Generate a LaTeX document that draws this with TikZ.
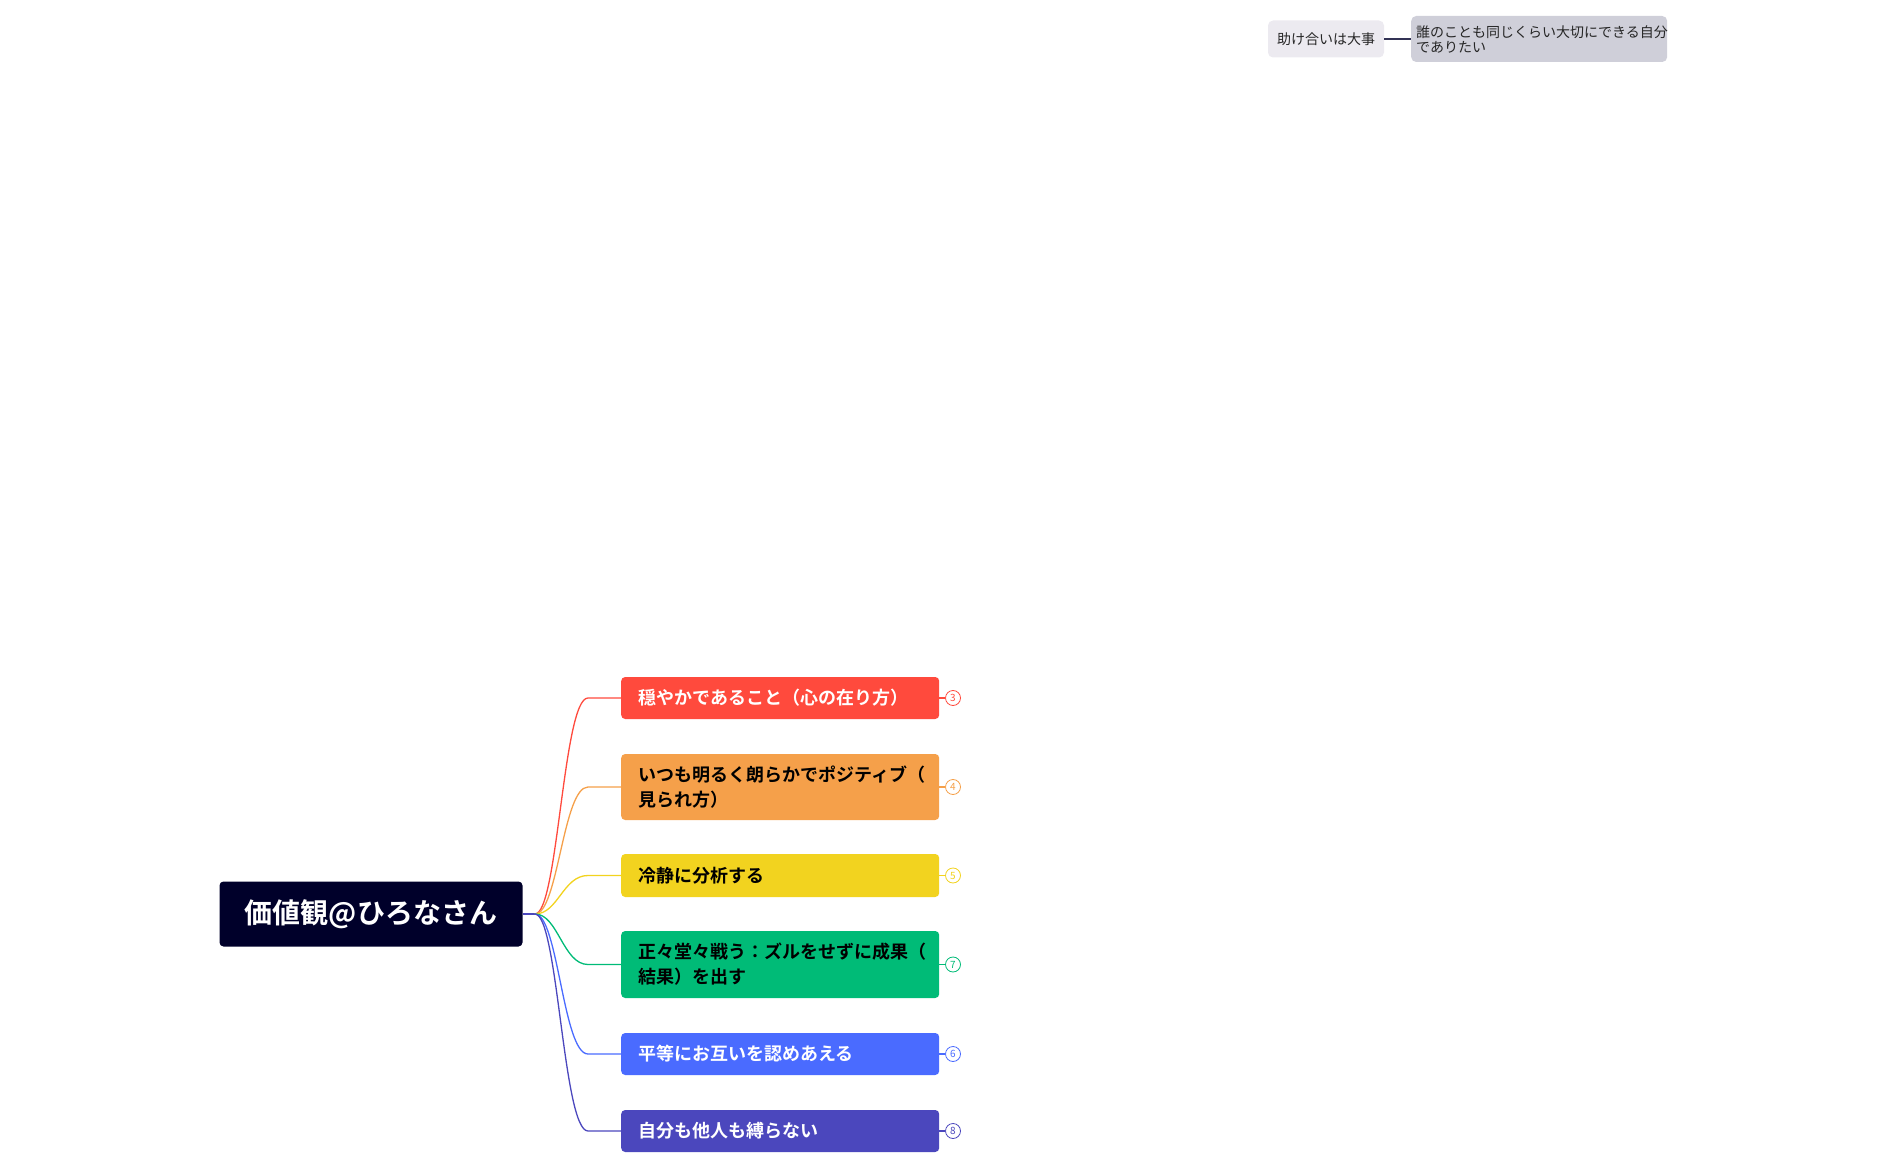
\documentclass[tikz,border=0pt]{standalone}
\usepackage{fontspec}
\setmainfont{Noto Sans CJK JP}
\newfontfamily\jpb{Noto Sans CJK JP Bold}
\definecolor{cA}{HTML}{FF4A3D}\definecolor{cB}{HTML}{F5A04A}\definecolor{cC}{HTML}{F2D31F}
\definecolor{cD}{HTML}{00BB77}\definecolor{cE}{HTML}{4A6BFF}\definecolor{cF}{HTML}{4B47BD}
\definecolor{root}{HTML}{00002A}\definecolor{tA}{HTML}{ECEAF0}\definecolor{tB}{HTML}{CFCFD9}
\begin{document}
\begin{tikzpicture}[x=1pt,y=-1pt,
 br/.style={rounded corners=4pt,minimum width=318pt,anchor=west,inner xsep=17pt,align=left,text width=284pt,font=\jpb\fontsize{18}{25}\selectfont},
 num/.style={circle,draw=#1,fill=white,line width=0.8pt,minimum size=15pt,inner sep=0pt,font=\fontsize{10}{10}\selectfont,text=#1},
 ln/.style={line width=1.3pt}]
\useasboundingbox (0,0) rectangle (1883,1166);
\node[fill=root,rounded corners=4pt,minimum width=303pt,minimum height=65pt,text=white,font=\jpb\fontsize{28}{30}\selectfont] (r) at (371,914) {価値観@ひろなさん};
\coordinate (j) at (535,914);
\draw[ln,cF] (r.east) -- (j);
\foreach \n/\c/\y/\h/\t/\tx/\k in {
 a/cA/698/42/white/{穏やかであること（心の在り方）}/3,
 b/cB/787/66/black/{いつも明るく朗らかでポジティブ（\\見られ方）}/4,
 c/cC/875.5/43/black/{冷静に分析する}/5,
 d/cD/964.5/67/black/{正々堂々戦う：ズルをせずに成果（\\結果）を出す}/7,
 e/cE/1054/42/white/{平等にお互いを認めあえる}/6,
 f/cF/1131/42/white/{自分も他人も縛らない}/8}{
 \node[br,fill=\c,minimum height=\h pt,text=\t] (\n) at (621,\y) {\tx};
 \node[num=\c] (k\n) at (953,\y) {\k};
 \draw[ln,\c] (\n.east) -- (k\n.west);
 \draw[ln,\c] (j) .. controls (558,914) and (563,\y) .. (588,\y) -- (\n.west);
}
\node[fill=tA,rounded corners=5pt,minimum width=116pt,minimum height=37pt,font=\fontsize{14}{16}\selectfont,text=black!85] (t1) at (1326,39) {助け合いは大事};
\node[fill=tB,rounded corners=5pt,minimum width=256pt,minimum height=46pt,text width=246pt,inner xsep=5pt,align=left,font=\fontsize{14}{15}\selectfont,text=black!85,anchor=west] (t2) at (1411,39) {誰のことも同じくらい大切にできる自分\\でありたい};
\draw[line width=2pt,root!80] (t1.east) -- (t2.west);
\end{tikzpicture}
\end{document}
